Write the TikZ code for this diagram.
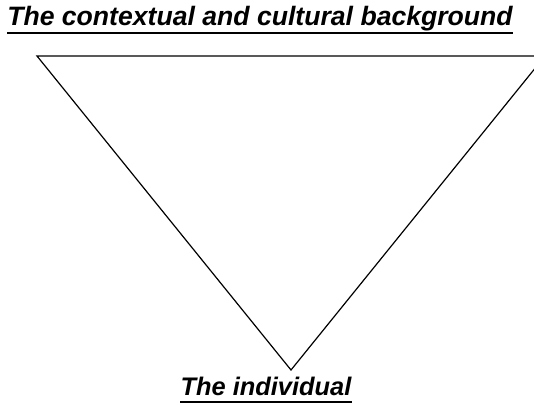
\documentclass[tikz,border=0pt]{standalone}
\usepackage{fontspec}
\setmainfont{Liberation Sans}
\usepackage{tikz}
\usetikzlibrary{calc}

\begin{document}
\begin{tikzpicture}[x=1pt,y=1pt,
     heading/.style={inner sep=0pt,anchor=base,font=\fontsize{26.6}{30}\selectfont\bfseries\itshape},
     uline/.style={line width=1.8pt}]
   \useasboundingbox (0,0) rectangle (534,-404);
   \node[heading] (context) at (260,-26) {The contextual and cultural background};
   \node[heading,font=\fontsize{25.4}{30}\selectfont\bfseries\itshape] (indiv) at (266,-395) {The individual};
   \draw[uline] ($(context.base west)+(0,-7)$) -- ($(context.base east)+(0,-7)$);
   \draw[uline] ($(indiv.base west)+(0,-7)$) -- ($(indiv.base east)+(0,-7)$);
   \coordinate (tl) at (37,-56); \coordinate (tr) at (545,-56); \coordinate (tip) at (291,-370);
   \begin{scope}
     \clip (0,0) rectangle (534,-404);
     \draw[line width=1.2pt] (tl) -- (tr) -- (tip) -- cycle;
   \end{scope}
  \end{tikzpicture}
\end{document}
